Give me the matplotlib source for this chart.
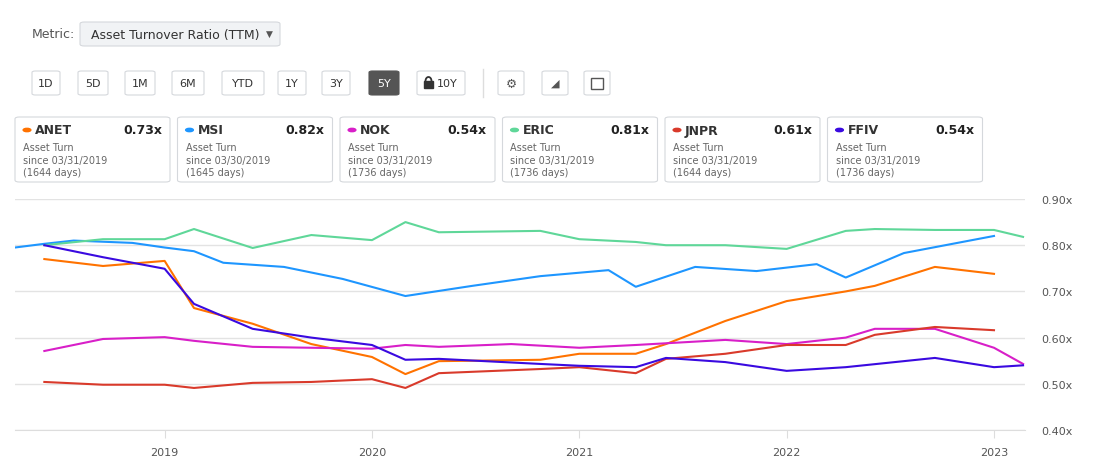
import matplotlib
matplotlib.use('Agg')
import matplotlib.pyplot as plt
import numpy as np
from matplotlib.patches import FancyBboxPatch, Circle, Rectangle
from matplotlib.ticker import FuncFormatter

# pixel x of quarterly points -> decimal year, read against the year ticks
tick_px = [168, 380, 566, 779, 993]
tick_yr = [2019, 2020, 2021, 2022, 2023]
def yr(px):
    px = np.asarray(px, dtype=float)
    out = np.interp(px, tick_px, tick_yr)
    out = np.where(px < 168, 2019 + (px - 168) / 212.0, out)
    out = np.where(px > 993, 2023 + (px - 993) / 214.0, out)
    return list(out)

anet_x = yr([45, 105, 168, 198, 258, 318, 380, 410, 440, 531, 566, 624, 655, 716, 779, 840, 870, 932, 993])
anet_y = [0.770, 0.755, 0.766, 0.664, 0.630, 0.586, 0.558, 0.521, 0.549, 0.552, 0.565, 0.565, 0.586, 0.636, 0.679, 0.700, 0.712, 0.753, 0.738]
msi_x = yr([15, 45, 75, 135, 168, 198, 228, 290, 350, 410, 470, 531, 596, 624, 685, 748, 810, 840, 900, 993])
msi_y = [0.795, 0.803, 0.810, 0.805, 0.795, 0.787, 0.762, 0.753, 0.727, 0.690, 0.712, 0.733, 0.746, 0.710, 0.753, 0.744, 0.759, 0.730, 0.783, 0.820]
nok_x = yr([45, 105, 168, 198, 258, 318, 380, 410, 440, 505, 566, 624, 716, 779, 840, 870, 932, 993, 1023])
nok_y = [0.571, 0.597, 0.601, 0.593, 0.580, 0.578, 0.576, 0.584, 0.580, 0.586, 0.578, 0.584, 0.595, 0.586, 0.600, 0.619, 0.619, 0.578, 0.543]
eric_x = yr([45, 105, 168, 198, 258, 318, 380, 410, 440, 531, 566, 624, 655, 716, 779, 840, 870, 932, 993, 1023])
eric_y = [0.800, 0.813, 0.813, 0.835, 0.794, 0.822, 0.811, 0.850, 0.828, 0.831, 0.813, 0.807, 0.800, 0.800, 0.792, 0.831, 0.835, 0.833, 0.833, 0.818]
jnpr_x = yr([45, 105, 168, 198, 258, 318, 380, 410, 440, 531, 566, 624, 655, 716, 779, 840, 870, 932, 993])
jnpr_y = [0.504, 0.498, 0.498, 0.491, 0.502, 0.504, 0.510, 0.491, 0.523, 0.532, 0.536, 0.523, 0.554, 0.565, 0.584, 0.584, 0.606, 0.623, 0.616]
ffiv_x = yr([45, 105, 168, 198, 258, 318, 380, 410, 440, 531, 566, 624, 655, 716, 779, 840, 932, 993, 1023])
ffiv_y = [0.800, 0.774, 0.749, 0.673, 0.619, 0.600, 0.584, 0.552, 0.554, 0.543, 0.539, 0.536, 0.556, 0.547, 0.528, 0.536, 0.556, 0.536, 0.540]

names = ['ANET', 'MSI', 'NOK', 'ERIC', 'JNPR', 'FFIV']
colors = ['#ff7200', '#1e96ff', '#d81fc8', '#5fd799', '#d93a2b', '#3a0ae0']
last_vals = ['0.73x', '0.82x', '0.54x', '0.81x', '0.61x', '0.54x']
since = ['03/31/2019', '03/30/2019', '03/31/2019', '03/31/2019', '03/31/2019', '03/31/2019']
days = ['1644', '1645', '1736', '1736', '1644', '1736']
buttons = ['1D', '5D', '1M', '6M', 'YTD', '1Y', '3Y', '5Y', '10Y']

W, H = 1100, 477
fig = plt.figure(figsize=(11, 4.77), dpi=100)

def fx(p): return p / W
def fy(p): return 1 - p / H

# header
fig.text(fx(32), fy(35), 'Metric:', fontsize=9, color='#555555', va='center')
fig.patches.append(FancyBboxPatch((fx(80), fy(47)), fx(200), 24 / H, boxstyle='round,pad=0,rounding_size=0.004',
                                  transform=fig.transFigure, fc='#f1f3f5', ec='#d5d8dc', lw=0.8))
fig.text(fx(91), fy(35), 'Asset Turnover Ratio (TTM)', fontsize=9, color='#333333', va='center')
fig.text(fx(266), fy(34), '▼', fontsize=6.5, color='#555555', va='center')

bx = [32, 78, 125, 172, 222, 278, 322, 369, 417]
bw = [28, 30, 30, 32, 42, 28, 28, 30, 48]
for i, b in enumerate(buttons):
    act = b == '5Y'
    fig.patches.append(FancyBboxPatch((fx(bx[i]), fy(96)), fx(bw[i]), 24 / H, boxstyle='round,pad=0,rounding_size=0.003',
                                      transform=fig.transFigure, fc='#555555' if act else 'white',
                                      ec='#555555' if act else '#d5d8dc', lw=0.8))
    cx = bx[i] + bw[i] / 2 + (6 if b == '10Y' else 0)
    fig.text(fx(cx), fy(84), b, fontsize=8, ha='center', va='center',
             color='white' if act else '#333333')
# lock icon
fig.patches.append(Rectangle((fx(424), fy(89)), fx(9), 7 / H, transform=fig.transFigure, color='#333333'))
fig.patches.append(matplotlib.patches.Arc((fx(428.5), fy(82)), fx(6), 8 / H, theta1=0, theta2=180,
                                          transform=fig.transFigure, color='#333333', lw=1.3))
fig.lines.append(plt.Line2D([fx(483), fx(483)], [fy(70), fy(98)], transform=fig.transFigure, color='#dddddd', lw=1))
for x0 in [498, 542, 584]:
    fig.patches.append(FancyBboxPatch((fx(x0), fy(96)), fx(26), 24 / H, boxstyle='round,pad=0,rounding_size=0.003',
                                      transform=fig.transFigure, fc='white', ec='#d5d8dc', lw=0.8))
fig.text(fx(511), fy(84), '⚙', fontsize=9, ha='center', va='center', color='#555555')
fig.text(fx(555), fy(84), '◢', fontsize=8, ha='center', va='center', color='#555555')
fig.patches.append(Rectangle((fx(591), fy(90)), fx(12), 11 / H, transform=fig.transFigure,
                             fc='white', ec='#555555', lw=1))

# cards
for i in range(6):
    x0 = 15 + i * 162.5
    fig.patches.append(FancyBboxPatch((fx(x0), fy(183)), fx(155), 65 / H, boxstyle='round,pad=0,rounding_size=0.004',
                                      transform=fig.transFigure, fc='white', ec='#d5d8dc', lw=0.8))
    fig.patches.append(Circle((fx(x0 + 12), fy(131)), 0.0035, transform=fig.transFigure, color=colors[i]))
    fig.text(fx(x0 + 20), fy(131), names[i], fontsize=9, weight='bold', color='#333333', va='center')
    fig.text(fx(x0 + 147), fy(131), last_vals[i], fontsize=9, weight='bold', color='#222222', va='center', ha='right')
    fig.text(fx(x0 + 8), fy(148), 'Asset Turn', fontsize=7, color='#666666', va='center')
    fig.text(fx(x0 + 8), fy(161), 'since ' + since[i], fontsize=7, color='#666666', va='center')
    fig.text(fx(x0 + 8), fy(173), '(' + days[i] + ' days)', fontsize=7, color='#666666', va='center')

# chart
ax = fig.add_axes([fx(15), fy(431), fx(1010), 231 / H])
series = [(anet_x, anet_y), (msi_x, msi_y), (nok_x, nok_y), (eric_x, eric_y), (jnpr_x, jnpr_y), (ffiv_x, ffiv_y)]
for (xs, ys), c in zip(series, colors):
    ax.plot(xs, ys, color=c, lw=1.5)
ax.set_ylim(0.40, 0.90)
ax.set_xlim(yr([15])[0], yr([1025])[0])
ax.set_yticks([0.4, 0.5, 0.6, 0.7, 0.8, 0.9])
ax.yaxis.set_major_formatter(FuncFormatter(lambda v, p: '%.2fx' % v))
ax.yaxis.tick_right()
ax.set_xticks(tick_yr)
ax.set_xticklabels([str(t) for t in tick_yr])
ax.grid(axis='y', color='#e3e3e3', lw=1)
ax.set_axisbelow(True)
for s in ['top', 'left', 'right']:
    ax.spines[s].set_visible(False)
ax.spines['bottom'].set_color('#dddddd')
ax.tick_params(axis='y', length=0, labelsize=8, colors='#555555', pad=12)
ax.tick_params(axis='x', length=6, color='#dddddd', labelsize=8, labelcolor='#555555', pad=6)

fig.savefig('out.png', dpi=100, facecolor='white')
